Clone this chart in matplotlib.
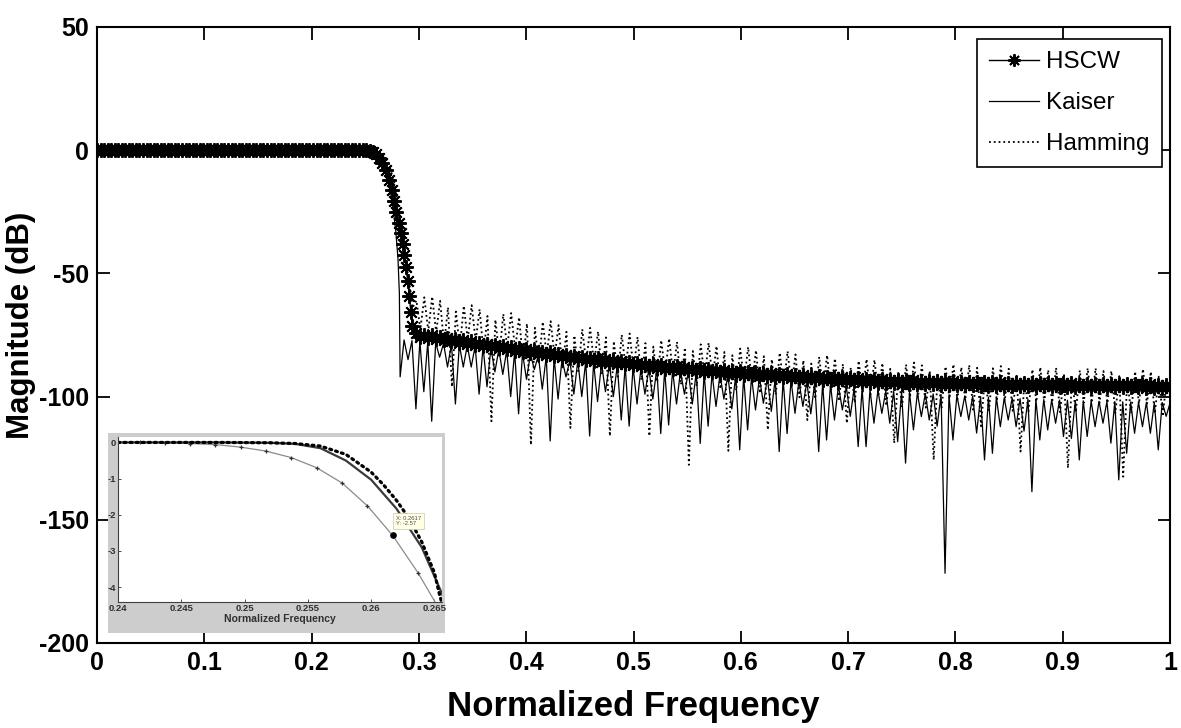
import numpy as np
import matplotlib.pyplot as plt

# ---------------- data (dB vs normalized frequency) ----------------
ripple_step = 0.00736          # spacing of the stop-band ripples

# HSCW: flat pass band (sampled every 0.0033), transition, then stop band (upper/lower edge of each ripple)
hscw_pass_db = [0, 0, 0, 0, 0, 0, 0, 0, 0, 0, 0, 0, 0, 0, 0, 0, 0, 0, 0, 0,
                0, 0, 0, 0, 0, 0, 0, 0, 0, 0, 0, 0, 0, 0, 0, 0, 0, 0, 0, 0,
                0, 0, 0, 0, 0, 0, 0, 0, 0, 0, 0, 0, 0, 0, 0, 0, 0, 0, 0, 0,
                0, 0, 0, 0, 0, 0, 0, 0, 0, 0, 0, 0, 0, 0, 0, 0, 0]
hscw_trans_f = [0.254, 0.257, 0.260, 0.263, 0.266, 0.269, 0.272, 0.2745, 0.277, 0.279,
                0.281, 0.283, 0.285, 0.2865, 0.288, 0.2895, 0.291, 0.2925, 0.294]
hscw_trans_db = [-0.3, -0.8, -1.7, -3.2, -5, -8, -12, -16, -20.5, -25,
                 -29.5, -33.5, -38, -42.5, -47.5, -53, -59, -65.5, -71.5]
hscw_stop_f0 = 0.2972
hscw_top = [-74.3, -74.8, -75.2, -75.7, -76.2, -76.7, -77.1, -77.6, -78.1, -78.5,
            -79.0, -79.4, -79.9, -80.3, -80.8, -81.2, -81.7, -82.1, -82.6, -83.0,
            -83.5, -83.8, -84.2, -84.5, -84.9, -85.2, -85.5, -85.9, -86.2, -86.6,
            -86.9, -87.2, -87.4, -87.7, -88.0, -88.3, -88.5, -88.8, -89.1, -89.3,
            -89.6, -89.8, -90.0, -90.2, -90.4, -90.6, -90.8, -91.0, -91.2, -91.4,
            -91.6, -91.8, -91.9, -92.1, -92.2, -92.4, -92.6, -92.7, -92.9, -93.0,
            -93.2, -93.3, -93.4, -93.4, -93.5, -93.6, -93.7, -93.8, -93.8, -93.9,
            -94.0, -94.1, -94.1, -94.2, -94.2, -94.3, -94.3, -94.4, -94.4, -94.5,
            -94.5, -94.6, -94.6, -94.6, -94.7, -94.7, -94.8, -94.8, -94.8, -94.9,
            -94.9, -94.9, -95.0, -95.0, -95.1, -95.1]
hscw_bot = [-75.7, -76.2, -76.6, -77.1, -77.6, -78.1, -78.5, -79.0, -79.5, -79.9,
            -80.4, -80.8, -81.3, -81.7, -82.2, -82.6, -83.1, -83.5, -84.0, -84.4,
            -84.9, -85.2, -85.6, -85.9, -86.3, -86.6, -86.9, -87.3, -87.6, -88.0,
            -88.3, -88.6, -88.8, -89.1, -89.4, -89.7, -89.9, -90.2, -90.5, -90.7,
            -91.0, -91.2, -91.4, -91.6, -91.8, -92.0, -92.2, -92.4, -92.6, -92.8,
            -93.0, -93.2, -93.3, -93.5, -93.6, -93.8, -94.0, -94.1, -94.3, -94.4,
            -94.6, -94.7, -94.8, -94.8, -94.9, -95.0, -95.1, -95.2, -95.2, -95.3,
            -95.4, -95.5, -95.5, -95.6, -95.6, -95.7, -95.7, -95.8, -95.8, -95.9,
            -95.9, -96.0, -96.0, -96.0, -96.1, -96.1, -96.2, -96.2, -96.2, -96.3,
            -96.3, -96.3, -96.4, -96.4, -96.5, -96.5]

# Kaiser: pass band + transition, then stop band (null depth, following peak)
kaiser_trans_f = [0, 0.25, 0.255, 0.259, 0.263, 0.267, 0.270, 0.273, 0.276, 0.2785, 0.2805, 0.2818]
kaiser_trans_db = [0, 0, -0.3, -0.9, -2.5, -5.5, -9.5, -15.5, -24, -33, -44, -58]
kaiser_stop_f0 = 0.2825
kaiser_null = [-92, -85, -105, -98, -110, -84, -88, -103, -88, -88,
               -99, -96, -90, -91, -100, -107, -93, -89, -97, -118,
               -101, -92, -99, -100, -116, -102, -98, -100, -109.5, -112,
               -103, -99, -101, -115, -111.5, -103, -99, -103, -119, -112,
               -104, -101, -105, -121.6, -113.5, -105.4, -102.7, -106, -122.3, -115,
               -106.8, -104, -107, -122.3, -117.6, -109.5, -105.4, -108, -120.3, -120.3,
               -110.8, -106.8, -110.8, -118.3, -127, -113.5, -108.1, -109.5, -112, -171.7,
               -117.6, -108.1, -109.5, -114.8, -125.7, -123, -112.2, -109.5, -112.2, -114,
               -138.6, -117.6, -113.5, -110.8, -116.2, -117, -125.7, -116.2, -112.2, -110.8,
               -118.9, -133.8, -123, -114.9, -112.2, -114.9, -121.6, -108]
kaiser_peak = [-77, -77.3, -77.6, -77.8, -78.1, -78.4, -78.7, -79, -79.2, -79.5,
               -79.8, -80.3, -80.8, -81.3, -81.8, -82.3, -82.8, -83.3, -83.8, -84.3,
               -84.8, -85.2, -85.5, -85.9, -86.2, -86.6, -86.9, -87.3, -87.6, -88,
               -88.3, -88.6, -88.8, -89.1, -89.4, -89.7, -89.9, -90.2, -90.5, -90.7,
               -91, -91.3, -91.5, -91.8, -92, -92.3, -92.5, -92.8, -93, -93.3,
               -93.6, -94, -94.4, -94.8, -95.2, -95.6, -96, -96.4, -96.8, -97.2,
               -97.5, -97.7, -97.9, -98.1, -98.3, -98.5, -98.7, -98.9, -99.1, -99.3,
               -99.5, -99.7, -99.8, -100, -100.2, -100.3, -100.5, -100.6, -100.8, -101,
               -101.1, -101.2, -101.3, -101.4, -101.5, -101.6, -101.7, -101.8, -101.9, -102,
               -102, -102.1, -102.2, -102.3, -102.3, -102.4, -102.4, -102.5]

# Hamming: pass band + transition, then stop band (null depth, following peak)
hamming_trans_f = [0, 0.25, 0.258, 0.264, 0.269, 0.273, 0.277, 0.2805, 0.283, 0.286, 0.2885, 0.291, 0.2925]
hamming_trans_db = [0, 0, -0.2, -1.2, -3.5, -7, -13, -22, -30, -39, -47, -54, -58]
hamming_stop_f0 = 0.2940
hamming_null = [-64, -72.7, -73.4, -74.1, -78.8, -96, -80.2, -76.9, -77.6, -82.3,
                -110, -83.5, -80.1, -80.8, -85.4, -119.6, -86.7, -83.4, -84, -88.7,
                -112.7, -89.7, -86.1, -86.6, -91, -116, -91.9, -88.4, -88.8, -93.3,
                -116, -94.1, -90.4, -90.8, -95.1, -127.7, -95.8, -92.2, -92.5, -96.9,
                -122, -97.5, -93.9, -94.2, -98.6, -113.5, -99.2, -95.6, -95.9, -100.3,
                -109.5, -100.9, -97.2, -97.5, -101.8, -110.8, -102.5, -98.8, -99.1, -99.4,
                -103.7, -118.9, -104, -100.2, -100.3, -104.5, -125.7, -104.8, -100.9, -101.1,
                -101.2, -105.3, -112, -105.5, -101.6, -101.7, -105.8, -122.3, -106, -102.1,
                -102.2, -102.3, -106.3, -129, -106.4, -102.5, -102.5, -102.6, -102.6, -106.7,
                -132.5, -106.8, -102.8, -102.9, -106.9, -108]
hamming_peak = [-61, -59.7, -59.4, -61.1, -63.8, -65.5, -63.2, -62.9, -64.6, -67.3,
                -68.8, -66.5, -66.1, -67.8, -70.4, -72.1, -69.7, -69.4, -71, -73.7,
                -75.2, -72.7, -72.1, -73.6, -76, -77.5, -74.9, -74.4, -75.8, -78.3,
                -79.7, -77.1, -76.4, -77.8, -80.1, -81.5, -78.8, -78.2, -79.5, -81.9,
                -83.2, -80.5, -79.9, -81.2, -83.6, -84.9, -82.2, -81.6, -82.9, -85.3,
                -86.6, -83.9, -83.2, -84.5, -86.8, -88.2, -85.5, -84.8, -85.1, -86.4,
                -88.7, -89.9, -87, -86.2, -87.3, -89.5, -90.6, -87.8, -86.9, -88.1,
                -87.2, -88.3, -91.4, -88.5, -87.6, -88.7, -90.8, -91.9, -89, -88.1,
                -89.2, -88.3, -91.3, -92.4, -89.4, -88.5, -88.5, -89.6, -89.6, -91.7,
                -92.7, -89.8, -88.8, -89.9, -91.9, -93]

# zoomed inset (0.24 - 0.265)
inset_mark_f = [0.2417, 0.2437, 0.2457, 0.2477, 0.2497, 0.2517, 0.2537,
                0.2557, 0.2577, 0.2597, 0.2617, 0.2637, 0.2657]
inset_mark_db = [0, -0.01, -0.03, -0.06, -0.13, -0.24, -0.42,
                 -0.7, -1.12, -1.75, -2.57, -3.6, -4.8]
inset_solid_f = [0.240, 0.244, 0.248, 0.252, 0.254, 0.256, 0.258, 0.260, 0.262, 0.264, 0.2655, 0.2662]
inset_solid_db = [0, 0, 0, -0.01, -0.04, -0.16, -0.5, -1.03, -1.83, -2.9, -4.1, -4.7]
inset_dot_f = [0.240, 0.244, 0.248, 0.252, 0.254, 0.256, 0.258, 0.260, 0.261, 0.262, 0.263, 0.264, 0.265, 0.2654, 0.2658]
inset_dot_db = [0, 0, 0, -0.01, -0.03, -0.1, -0.33, -0.82, -1.18, -1.6, -2.1, -2.75, -3.6, -4.2, -4.7]
tip_f, tip_db = 0.2617, -2.57


def ripple(f0, hi, lo):
    # each ripple: first value at f, second half a ripple later
    f = f0 + ripple_step * np.arange(len(hi))
    xs = np.column_stack([f, f + ripple_step / 2]).ravel()
    ys = np.column_stack([hi, lo]).ravel()
    return xs, ys


fs, db = ripple(kaiser_stop_f0, kaiser_null, kaiser_peak)
kaiser_f = np.concatenate([kaiser_trans_f, fs])
kaiser_db = np.concatenate([kaiser_trans_db, db])

fs, db = ripple(hamming_stop_f0, hamming_null, hamming_peak)
hamming_f = np.concatenate([hamming_trans_f, fs])
hamming_db = np.concatenate([hamming_trans_db, db])

fs, db = ripple(hscw_stop_f0, hscw_top, hscw_bot)
hscw_f = np.concatenate([0.0033 * np.arange(len(hscw_pass_db)), hscw_trans_f, fs])
hscw_db = np.concatenate([hscw_pass_db, hscw_trans_db, db])

# ---------------- figure ----------------
W, H = 1181, 728
plt.rcParams['font.family'] = ['Liberation Sans', 'DejaVu Sans']
plt.rcParams['axes.unicode_minus'] = False
fig = plt.figure(figsize=(W / 100, H / 100), dpi=100)

ax = fig.add_axes([97 / W, 85 / H, 1073 / W, 616 / H])
star = (8, 2, 0)
ax.plot(kaiser_f, kaiser_db, color='k', lw=0.9, label='Kaiser', zorder=2)
ax.plot(hamming_f, hamming_db, color='k', lw=1.3, ls=':', label='Hamming', zorder=3)
ax.plot(hscw_f, hscw_db, color='k', lw=1.0, marker=star, ms=10.5, mew=1.4, label='HSCW', zorder=4)

ax.set_xlim(0, 1)
ax.set_ylim(-200, 50)
ax.set_xticks(np.arange(0, 1.01, 0.1))
ax.set_xticklabels(['0', '0.1', '0.2', '0.3', '0.4', '0.5', '0.6', '0.7', '0.8', '0.9', '1'])
ax.set_yticks([-200, -150, -100, -50, 0, 50])
ax.tick_params(direction='in', length=9, width=1.3, top=True, right=True,
               labelsize=18, pad=6)
for lab in ax.get_xticklabels() + ax.get_yticklabels():
    lab.set_fontweight('bold')
for s in ax.spines.values():
    s.set_linewidth(1.5)
ax.set_xlabel('Normalized Frequency', fontsize=25, fontweight='bold', va='top')
ax.set_ylabel('Magnitude (dB)', fontsize=22.5, fontweight='bold')
ax.xaxis.set_label_coords(0.4995, -0.076)
ax.yaxis.set_label_coords(-0.057, 0.515)

h, l = ax.get_legend_handles_labels()
order = [2, 0, 1]
leg = ax.legend([h[i] for i in order], [l[i] for i in order], loc='upper right',
                bbox_to_anchor=(0.9923, 0.9805), borderaxespad=0, fontsize=17.5,
                handlelength=2.05, handletextpad=0.3, labelspacing=0.78,
                borderpad=0.5, fancybox=False, framealpha=1, edgecolor='k')
leg.get_frame().set_linewidth(1.2)
leg.legend_handles[0].set_markersize(9)

# ---------------- inset ----------------
panel = fig.add_axes([108 / W, 95 / H, 337 / W, 200 / H])
panel.set_facecolor('#cdcdcd')
panel.set_xticks([])
panel.set_yticks([])
for s in panel.spines.values():
    s.set_visible(False)

ins = fig.add_axes([118 / W, 126 / H, 324 / W, 165 / H])
ins.plot(inset_mark_f, inset_mark_db, color='#8a8a8a', lw=0.9, marker='+', ms=3.5,
         mec='#303030', mew=0.9)
ins.plot(inset_solid_f, inset_solid_db, color='#3a3a3a', lw=1.6)
ins.plot(inset_dot_f, inset_dot_db, color='k', lw=2.3, ls=(0, (0.6, 1.3)),
         dash_capstyle='round')
ins.plot([tip_f], [tip_db], 'o', color='k', ms=3.8)
ins.text(tip_f + 0.00025, tip_db + 0.25, 'X: 0.2617\nY: -2.57', fontsize=4.2,
         color='#505050', va='bottom', ha='left',
         bbox=dict(boxstyle='square,pad=0.45', fc='#ffffe6', ec='#c8c8b0', lw=0.5))
ins.set_xlim(0.24, 0.2656)
ins.set_ylim(-4.41, 0.15)
ins.set_xticks([0.24, 0.245, 0.25, 0.255, 0.26, 0.265])
ins.set_xticklabels(['0.24', '0.245', '0.25', '0.255', '0.26', '0.265'])
ins.set_yticks([-4, -3, -2, -1, 0])
ins.tick_params(direction='in', length=2, width=0.6, labelsize=6.8, pad=1.5,
                colors='#303030')
for lab in ins.get_xticklabels() + ins.get_yticklabels():
    lab.set_fontweight('bold')
for s in ['top', 'right']:
    ins.spines[s].set_visible(False)
for s in ['left', 'bottom']:
    ins.spines[s].set_color('#404040')
    ins.spines[s].set_linewidth(0.8)
ins.set_xlabel('Normalized Frequency', fontsize=7.5, fontweight='bold', color='#303030', labelpad=1)

fig.savefig('out.png', dpi=100)
